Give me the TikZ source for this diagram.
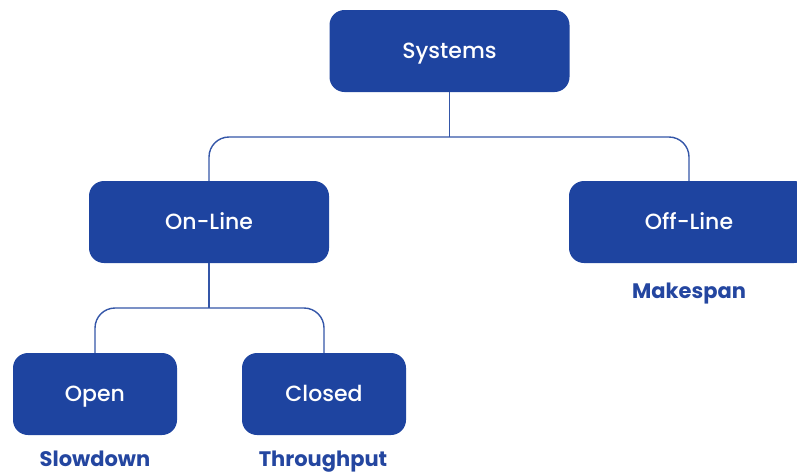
\documentclass[tikz,border=0pt]{standalone}
\usepackage{fontspec}
\setmainfont{Poppins}
\newfontfamily\boxfont{Poppins Medium}
\definecolor{boxblue}{RGB}{30,68,160}
\definecolor{labelblue}{RGB}{36,70,160}
\definecolor{linkblue}{RGB}{52,86,168}
\begin{document}
\begin{tikzpicture}[x=1pt,y=-1pt,
  catbox/.style={draw=none,fill=boxblue,rounded corners=15pt,minimum height=82pt,
    text=white,font=\boxfont\fontsize{22}{26}\selectfont,inner sep=0pt,
    text height=15pt,text depth=0pt},
  widebox/.style={catbox,minimum width=240pt},
  narrowbox/.style={catbox,minimum width=164pt},
  metric/.style={text=labelblue,font=\fontsize{21}{25}\selectfont\bfseries,inner sep=0pt,
    text height=15pt,text depth=0pt},
  link/.style={draw=linkblue,line width=1.4pt,rounded corners=20pt}]
  \useasboundingbox (0,0) rectangle (797,475);
  \clip (0,0) rectangle (797,475);

  % boxes
  \node[widebox] (sys) at (449.5,51) {Systems};
  \node[widebox] (online) at (209,222) {On-Line};
  \node[widebox] (offline) at (689,222) {Off-Line};
  \node[narrowbox] (open) at (95,394) {Open};
  \node[narrowbox] (closed) at (324,394) {Closed};

  % metric labels
  \node[metric] (mk) at (689,291) {Makespan};
  \node[metric] (sd) at (95,459) {Slowdown};
  \node[metric] (tp) at (323,459) {Throughput};

  % tree connectors
  \coordinate (busA) at (449.5,137);
  \coordinate (busB) at (209,308);
  \draw[link] (sys.south) -- (busA);
  \draw[link] (online.north) |- (busA) -| (offline.north);
  \draw[link] (online.south) -- (busB);
  \draw[link] (open.north) |- (busB) -| (closed.north);
\end{tikzpicture}
\end{document}
